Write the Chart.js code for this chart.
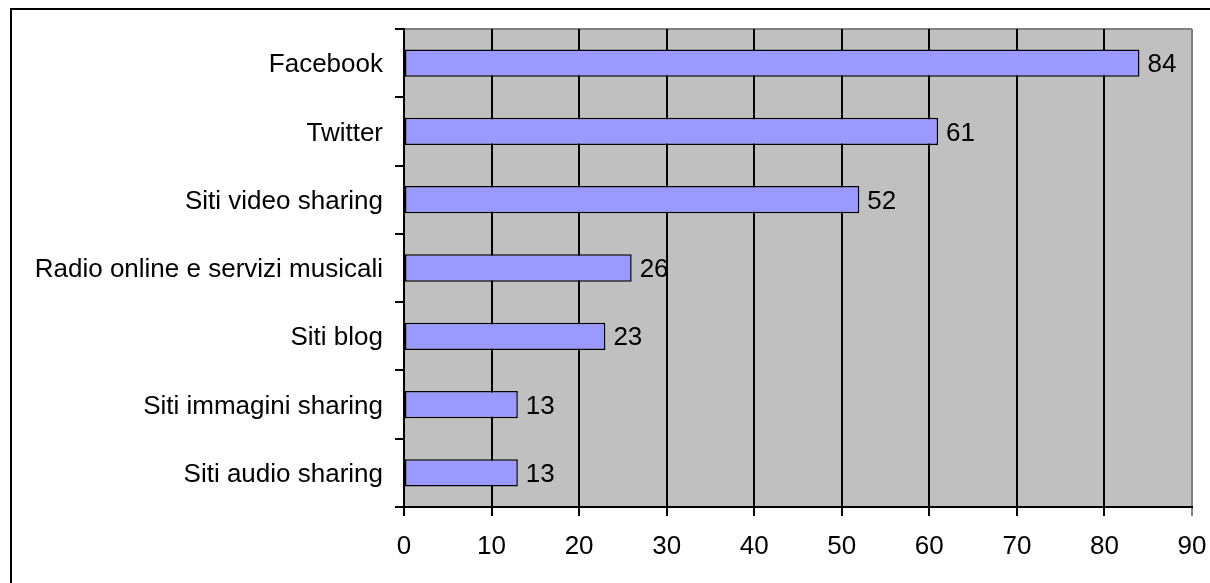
<!DOCTYPE html>
<html>
<head>
<meta charset="utf-8">
<script src="https://cdn.jsdelivr.net/npm/chart.js@4"></script>
<style>
  html, body { margin: 0; padding: 0; background: #fff; }
  #wrap { position: relative; width: 1210px; height: 583px; }
  #frame { position: absolute; left: 10px; top: 8px; right: 0; bottom: 0;
           border-left: 2px solid #000; border-top: 2px solid #000; }
  canvas { position: absolute; left: 0; top: 0; }
</style>
</head>
<body>
<div id="wrap">
  <div id="frame"></div>
  <canvas id="myChart" width="1210" height="583"></canvas>
</div>
<script>
// categories and values
const categories = [
  'Facebook',
  'Twitter',
  'Siti video sharing',
  'Radio online e servizi musicali',
  'Siti blog',
  'Siti immagini sharing',
  'Siti audio sharing'
];
const values = [84, 61, 52, 26, 23, 13, 13];
const xTicks = [0, 10, 20, 30, 40, 50, 60, 70, 80, 90];

const FONT = { family: "'Liberation Sans', Arial, sans-serif", size: 26 };

// gray plot background + gray top border
const plotBg = {
  id: 'plotBg',
  beforeDraw(chart) {
    const { ctx, chartArea: a } = chart;
    ctx.save();
    ctx.fillStyle = '#c0c0c0';
    ctx.fillRect(a.left, a.top, a.right - a.left, a.bottom - a.top);
    ctx.strokeStyle = '#808080';
    ctx.lineWidth = 2;
    ctx.beginPath();
    ctx.moveTo(a.left, a.top);
    ctx.lineTo(a.right, a.top);
    ctx.stroke();
    ctx.restore();
  }
};

// value labels at the end of each bar
const barLabels = {
  id: 'barLabels',
  afterDatasetsDraw(chart) {
    const { ctx } = chart;
    const meta = chart.getDatasetMeta(0);
    ctx.save();
    ctx.font = FONT.size + 'px ' + FONT.family;
    ctx.fillStyle = '#000';
    ctx.textAlign = 'left';
    ctx.textBaseline = 'middle';
    meta.data.forEach((bar, i) => {
      ctx.fillText(String(values[i]), bar.x + 8, bar.y + 2);
    });
    ctx.restore();
  }
};

const ctx = document.getElementById('myChart').getContext('2d');
new Chart(ctx, {
  type: 'bar',
  data: {
    labels: categories,
    datasets: [{
      data: values,
      backgroundColor: '#9999ff',
      borderColor: '#000',
      borderWidth: 1.5,
      borderSkipped: false,
      barPercentage: 0.4,
      categoryPercentage: 1
    }]
  },
  options: {
    indexAxis: 'y',
    responsive: false,
    animation: false,
    devicePixelRatio: 1,
    layout: { padding: { top: 29, right: 18, left: 0, bottom: 0 } },
    plugins: { legend: { display: false }, tooltip: { enabled: false } },
    scales: {
      x: {
        min: 0,
        max: 90,
        afterBuildTicks: (s) => { s.ticks = xTicks.map(v => ({ value: v })); },
        afterFit: (s) => { s.height = 76; s.paddingLeft = 0; s.paddingRight = 0; },
        border: { color: '#000', width: 2 },
        grid: {
          color: (c) => (c.tick && c.tick.value === 90 ? '#808080' : '#000'),
          lineWidth: 2,
          tickLength: 9,
          drawTicks: true
        },
        ticks: { color: '#000', font: FONT, padding: 15, maxRotation: 0 }
      },
      y: {
        afterFit: (s) => { s.width = 404; s.paddingTop = 0; s.paddingBottom = 0; },
        border: { color: '#000', width: 2 },
        grid: {
          drawOnChartArea: false,
          color: '#000',
          lineWidth: 2,
          tickLength: 9,
          offset: true
        },
        ticks: { color: '#000', font: FONT, padding: 12, labelOffset: 2, autoSkip: false }
      }
    }
  },
  plugins: [plotBg, barLabels]
});
</script>
</body>
</html>
